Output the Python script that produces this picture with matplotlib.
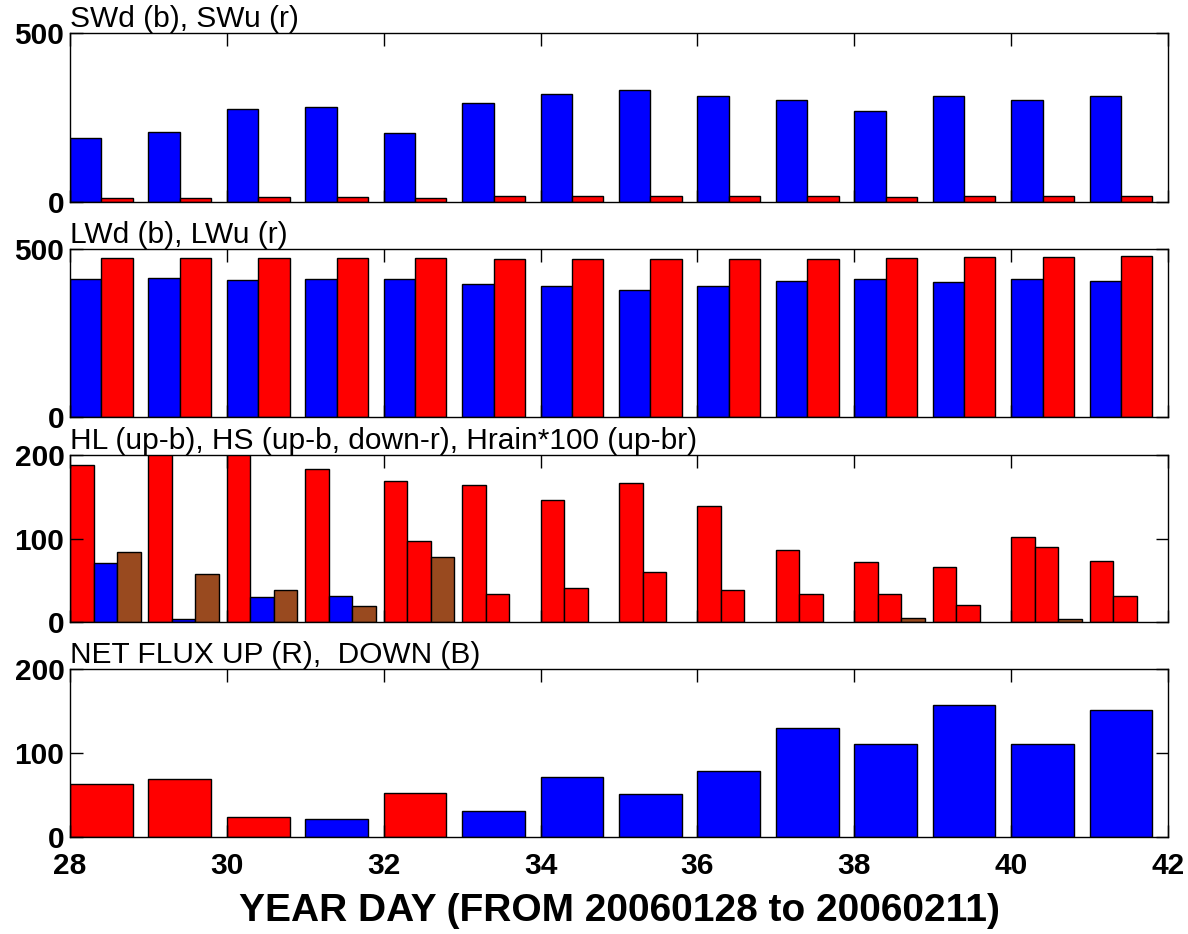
import numpy as np
import matplotlib
matplotlib.use("Agg")
import matplotlib.pyplot as plt

plt.rcParams['font.family'] = ['Liberation Sans', 'DejaVu Sans']

days = np.arange(28, 42)

# shortwave down / up
swd = [188, 206, 276, 282, 203, 294, 321, 332, 315, 303, 268, 315, 303, 315]
swu = [12, 12, 15, 15, 12, 18, 18, 18, 18, 18, 15, 18, 18, 18]

# longwave down / up
lwd = [412, 415, 408, 412, 412, 397, 390, 379, 391, 406, 412, 403, 412, 406]
lwu = [472, 472, 472, 472, 472, 470, 470, 470, 470, 470, 473, 476, 476, 479]

# latent, sensible (+ up, - down), rain heat *100
hl = [188, 230, 215, 183, 169, 164, 146, 167, 139, 86, 72, 66, 102, 73]
hs = [71, 4, 30, 31, -97, -34, -41, -60, -38, -34, -34, -20, -90, -31]
hrain = [84, 57, 38, 19, 78, 0, 0, 0, 0, 0, 5, 0, 4, 0]

# net flux (+ up, - down)
net = [63, 69, 24, -22, 52, -31, -71, -51, -78, -130, -111, -157, -111, -151]

blue = (0, 0, 1)
red = (1, 0, 0)
brown = (0.6, 0.29, 0.12)

W, H = 1188, 934
fig = plt.figure(figsize=(W / 100, H / 100), dpi=100)

left = 70 / W
width = (1168 - 70) / W
boxes = [(33, 202), (249, 417), (455, 622), (669, 837)]
axs = []
for top, bot in boxes:
    axs.append(fig.add_axes([left, 1 - bot / H, width, (bot - top) / H]))

ekw = dict(edgecolor='black', linewidth=1.0, align='edge')

ax = axs[0]
ax.bar(days, swd, width=0.4, color=blue, **ekw)
ax.bar(days + 0.4, swu, width=0.4, color=red, **ekw)
ax.set_ylim(0, 500)
ax.set_yticks([0, 500])

ax = axs[1]
ax.bar(days, lwd, width=0.4, color=blue, **ekw)
ax.bar(days + 0.4, lwu, width=0.4, color=red, **ekw)
ax.set_ylim(0, 500)
ax.set_yticks([0, 500])

ax = axs[2]
hs_col = [blue if v > 0 else red for v in hs]
ax.bar(days, hl, width=0.3, color=red, **ekw)
ax.bar(days + 0.3, np.abs(hs), width=0.3, color=hs_col, **ekw)
rain_days = [d for d, v in zip(days, hrain) if v > 0]
rain_vals = [v for v in hrain if v > 0]
ax.bar(np.array(rain_days) + 0.6, rain_vals, width=0.3, color=brown, **ekw)
ax.set_ylim(0, 200)
ax.set_yticks([0, 100, 200])

ax = axs[3]
net_col = [red if v > 0 else blue for v in net]
ax.bar(days, np.abs(net), width=0.8, color=net_col, **ekw)
ax.set_ylim(0, 200)
ax.set_yticks([0, 100, 200])

titles = ['SWd (b), SWu (r)', 'LWd (b), LWu (r)',
          'HL (up-b), HS (up-b, down-r), Hrain*100 (up-br)',
          'NET FLUX UP (R),  DOWN (B)']

for i, ax in enumerate(axs):
    ax.set_xlim(28, 42)
    ax.set_xticks(np.arange(28, 43, 2))
    ax.tick_params(direction='in', length=9, width=1, top=True, right=True,
                   labelsize=21.5, pad=4)
    for lab in ax.get_yticklabels() + ax.get_xticklabels():
        lab.set_fontweight('bold')
    if i < 3:
        ax.set_xticklabels([])
    for sp in ax.spines.values():
        sp.set_linewidth(1.0)
    ax.text(0, 1.0, titles[i], transform=ax.transAxes, ha='left', va='bottom',
            fontsize=21.5)

axs[3].tick_params(axis='x', pad=11)
axs[3].set_xlabel('YEAR DAY (FROM 20060128 to 20060211)', fontsize=28,
                  fontweight='bold', labelpad=9)

fig.savefig('out.png', dpi=100)
